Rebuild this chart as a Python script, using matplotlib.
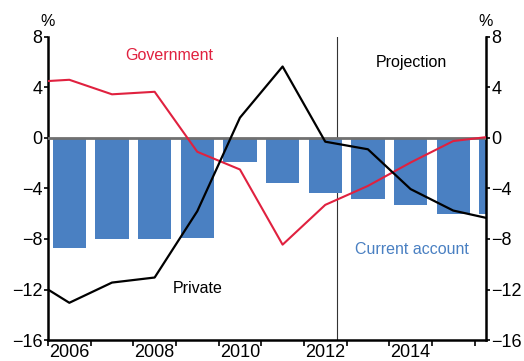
import matplotlib.pyplot as plt
import numpy as np

plt.rcParams["font.family"] = ["Liberation Sans", "DejaVu Sans"]

# -------------------------------
# DATA (% of GDP)
# -------------------------------
years = [2006, 2007, 2008, 2009, 2010, 2011, 2012, 2013, 2014, 2015, 2016]
current_account = [-8.7, -8.0, -8.0, -7.95, -1.9, -3.6, -4.4, -4.8, -5.3, -6.0, -6.05]

# lines start half a year before the first bar (left edge of the chart)
line_years = [2005.5, 2006, 2007, 2008, 2009, 2010, 2011, 2012, 2013, 2014, 2015, 2016]
government = [4.5, 4.6, 3.45, 3.65, -1.1, -2.5, -8.45, -5.3, -3.8, -1.95, -0.25, 0.15]
private = [-12.0, -13.05, -11.45, -11.05, -5.8, 1.6, 5.65, -0.3, -0.9, -4.05, -5.75, -6.5]

projection_start = 2012.28
year_labels = ["2006", "2008", "2010", "2012", "2014"]

RED = "#e0213f"
BLUE = "#4a80c2"

# -------------------------------
# FIGURE
# -------------------------------
fig = plt.figure(figsize=(5.24, 3.61), dpi=100)
ax = fig.add_axes([0.0916, 0.058, 0.8360, 0.840])

ax.bar(years, current_account, width=0.78, color=BLUE, zorder=2)
ax.axhline(0, color="#707070", lw=2, zorder=3)
ax.plot(line_years, government, color=RED, lw=1.5, zorder=4)
ax.plot(line_years, private, color="black", lw=1.6, zorder=4)
ax.axvline(projection_start, color="#333333", lw=0.8, zorder=1)

ax.set_xlim(2005.5, 2015.77)
ax.set_ylim(-16, 8)

# y axis both sides
yt = np.arange(-16, 9, 4)
ylabels = ["\u2212" + str(-v) if v < 0 else str(v) for v in yt]
ax.set_yticks(yt)
ax.set_yticklabels(ylabels)
ax.tick_params(axis="y", which="both", direction="out", length=3, width=1.2,
               labelsize=13, pad=1, left=True, right=True,
               labelleft=True, labelright=True)

# x axis: tick marks at year boundaries, labels centred on even years
ax.set_xticks(np.arange(2005.5, 2016, 1.0), minor=True)
ax.set_xticks([int(y) for y in year_labels])
ax.set_xticklabels(year_labels)
ax.tick_params(axis="x", which="major", length=0, labelsize=13, pad=3)
ax.tick_params(axis="x", which="minor", direction="out", length=4, width=1.2)

for side in ["left", "right", "bottom"]:
    ax.spines[side].set_linewidth(1.8)
ax.spines["top"].set_visible(False)

# labels
ax.text(2008.34, 6.5, "Government", color=RED, fontsize=11.5, ha="center", va="center")
ax.text(2014.02, 6.0, "Projection", color="black", fontsize=11.5, ha="center", va="center")
ax.text(2009.02, -11.95, "Private", color="black", fontsize=11.5, ha="center", va="center")
ax.text(2014.04, -8.8, "Current account", color=BLUE, fontsize=11.5, ha="center", va="center")

fig.text(48 / 524, 1 - 21 / 361, "%", fontsize=11.5, ha="center", va="center")
fig.text(486 / 524, 1 - 21 / 361, "%", fontsize=11.5, ha="center", va="center")

fig.savefig("out.png", dpi=100)
plt.close(fig)
